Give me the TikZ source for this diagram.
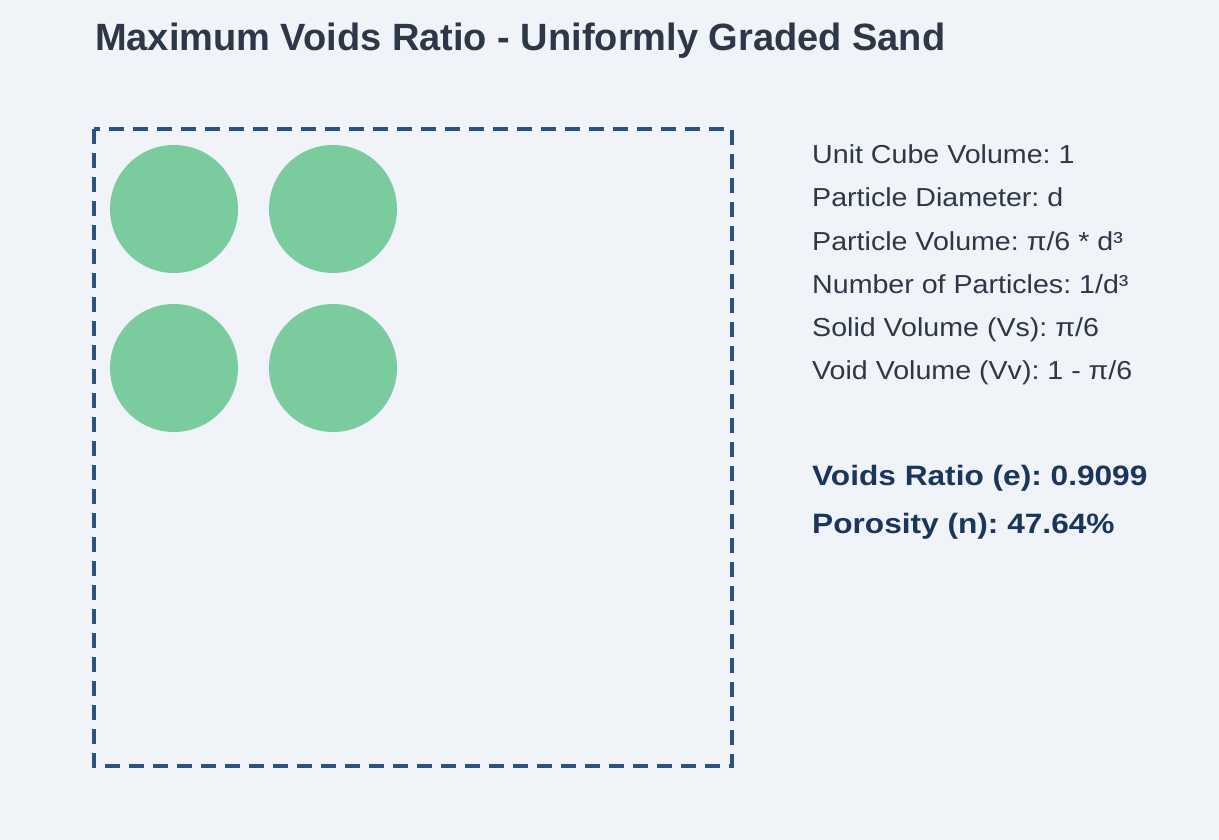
\documentclass[tikz,border=0pt]{standalone}
\usepackage{fontspec}
\setmainfont{Liberation Sans}
\newfontfamily\widesans[FakeStretch=1.1]{Liberation Sans}
\newfontfamily\widersans[FakeStretch=1.13]{Liberation Sans}
\frenchspacing
\definecolor{bgcol}{HTML}{F0F3F8}
\definecolor{boxcol}{HTML}{2C5282}
\definecolor{grain}{HTML}{7ACC9F}
\definecolor{txtcol}{HTML}{2D3748}
\definecolor{rescol}{HTML}{1A365D}
\begin{document}
\begin{tikzpicture}[x=1pt, y=-1pt, particle/.style={circle,fill=grain,minimum size=128pt,inner sep=0pt}, info/.style={anchor=base west,inner sep=0pt,text=txtcol,font=\widesans\fontsize{26}{30}\selectfont}, result/.style={anchor=base west,inner sep=0pt,text=rescol,font=\widersans\fontsize{28}{32}\selectfont\bfseries}]
\fill [bgcol] (0,0) rectangle (1219,840);
\useasboundingbox (0,0) rectangle (1219,840);
\node [anchor=base west,inner sep=0pt,text=txtcol,font=\fontsize{38}{44}\selectfont\bfseries](title) at (95,51) {Maximum Voids Ratio - Uniformly Graded Sand};
\draw [boxcol, line width=4pt, dash pattern=on 15pt off 9pt] (94,129) rectangle (732,766);
\node [particle](p1) at (174,209) {};
\node [particle](p2) at (333,209) {};
\node [particle](p3) at (174,368) {};
\node [particle](p4) at (333,368) {};
\begin{scope}
\node [info](l1) at (812,164) {Unit Cube Volume: 1};
\node [info](l2) at (812,207) {Particle Diameter: d};
\node [info](l3) at (812,250) {Particle Volume: π/6 * d³};
\node [info](l4) at (812,293) {Number of Particles: 1/d³};
\node [info](l5) at (812,336) {Solid Volume (Vs): π/6};
\node [info](l6) at (812,379) {Void Volume (Vv): 1 - π/6};
\end{scope}
\node [result](e) at (812,485) {Voids Ratio (e): 0.9099};
\node [result](n) at (812,533) {Porosity (n): 47.64\%};
\end{tikzpicture}
\end{document}
